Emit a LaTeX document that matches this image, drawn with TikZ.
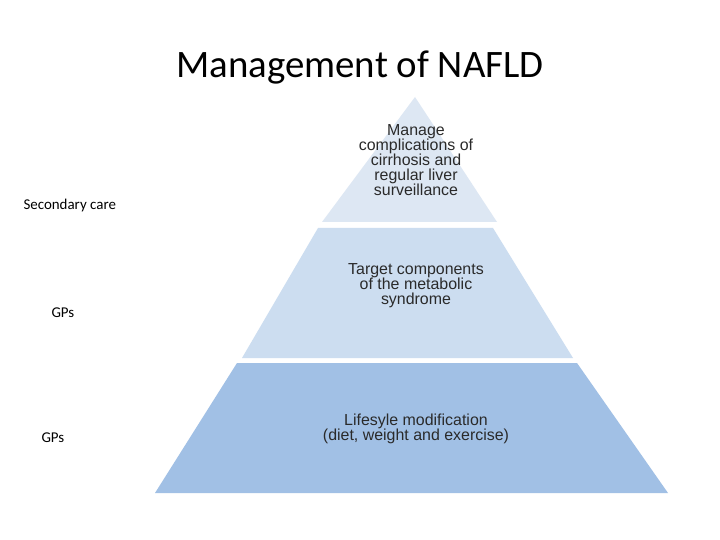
\documentclass[tikz,border=0pt]{standalone}
\usepackage{fontspec}
\setmainfont{Carlito}
\newfontfamily\arialf{Liberation Sans}
\definecolor{tierA}{HTML}{DDE7F3}
\definecolor{tierB}{HTML}{CCDDF0}
\definecolor{tierC}{HTML}{A1C0E5}
\definecolor{tierText}{HTML}{2A2A2A}
\begin{document}
\begin{tikzpicture}[x=1bp,y=-1bp,
  tiertext/.style={align=center,font=\arialf\fontsize{16}{15}\selectfont,text=tierText},
  side/.style={font=\fontsize{15}{18}\selectfont,anchor=west}]
\useasboundingbox (0,0) rectangle (720,540);
\fill[white] (0,0) rectangle (720,540);
\node[font=\fontsize{39}{44}\selectfont] (title) at (360,68) {Management of NAFLD};
\fill[tierA] (415,97) -- (497,222) -- (322,222) -- cycle;
\fill[tierB] (318,228) -- (493,228) -- (573,358) -- (242,358) -- cycle;
\fill[tierC] (237,363) -- (577,363) -- (668,493) -- (155,493) -- cycle;
\node[tiertext] (t1) at (416,160) {Manage\\complications of\\cirrhosis and\\regular liver\\surveillance};
\node[tiertext] (t2) at (416,286) {Target components\\of the metabolic\\syndrome};
\node[tiertext] (t3) at (416,429) {Lifesyle modification\\(diet, weight and exercise)};
\node[side] (s1) at (20,206) {Secondary care};
\node[side] (s2) at (48,313) {GPs};
\node[side] (s3) at (38,438) {GPs};
\end{tikzpicture}
\end{document}
